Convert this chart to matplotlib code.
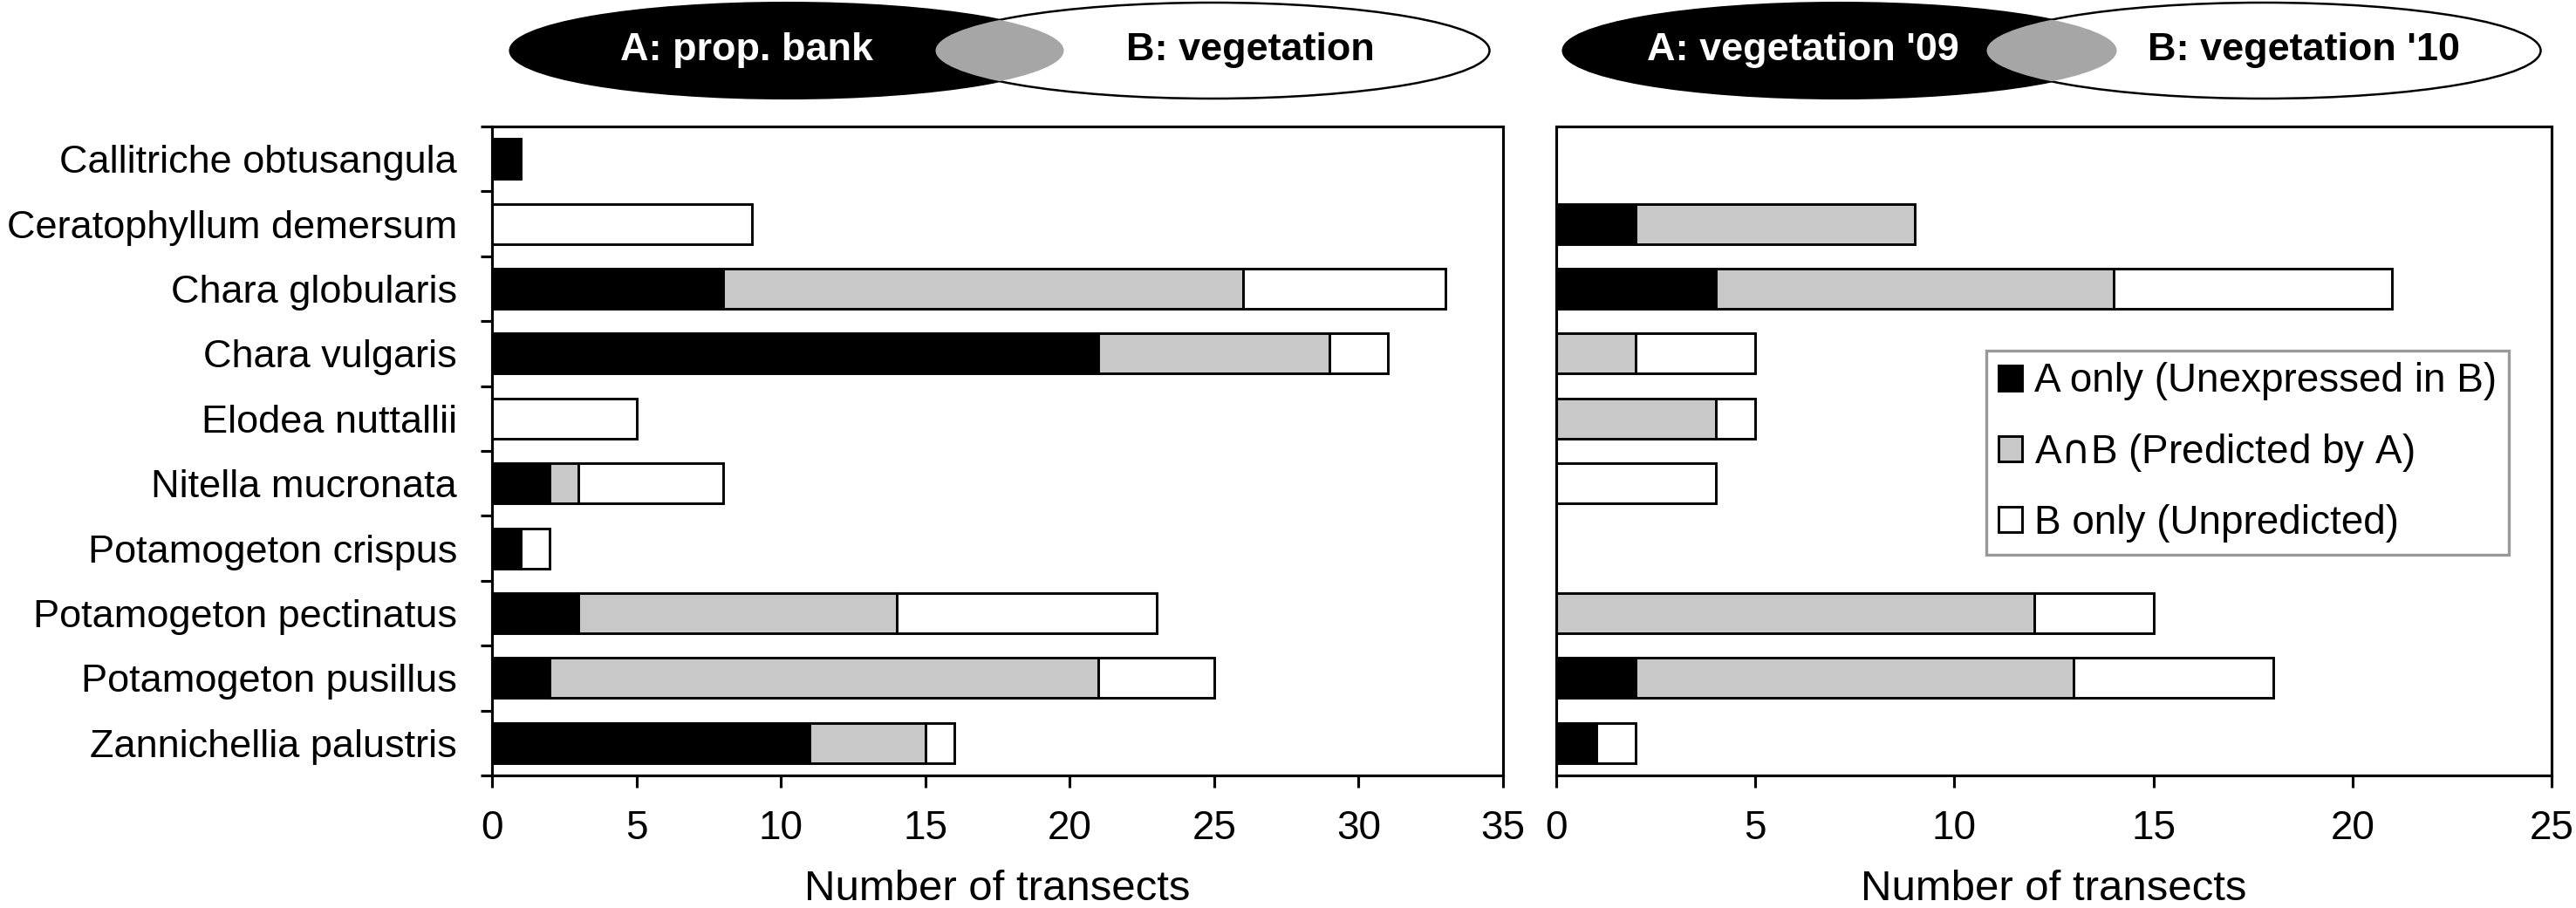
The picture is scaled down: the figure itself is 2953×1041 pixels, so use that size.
import numpy as np
import matplotlib
matplotlib.use('Agg')
import matplotlib.pyplot as plt
from matplotlib.patches import Ellipse

plt.rcParams['font.family'] = ['Liberation Sans', 'DejaVu Sans']
plt.rcParams['font.size'] = 11

species = ['Callitriche obtusangula', 'Ceratophyllum demersum', 'Chara globularis',
           'Chara vulgaris', 'Elodea nuttallii', 'Nitella mucronata',
           'Potamogeton crispus', 'Potamogeton pectinatus', 'Potamogeton pusillus',
           'Zannichellia palustris']

# left panel: A = propagule bank, B = vegetation
left_a_only = [1, 0, 8, 21, 0, 2, 1, 3, 2, 11]
left_both   = [0, 0, 18, 8, 0, 1, 0, 11, 19, 4]
left_b_only = [0, 9, 7, 2, 5, 5, 1, 9, 4, 1]

# right panel: A = vegetation '09, B = vegetation '10
right_a_only = [0, 2, 4, 0, 0, 0, 0, 0, 2, 1]
right_both   = [0, 7, 10, 2, 4, 0, 0, 12, 11, 0]
right_b_only = [0, 0, 7, 3, 1, 4, 0, 3, 5, 1]

series_names = ['A only (Unexpressed in B)', r'A$\cap$B (Predicted by A)', 'B only (Unpredicted)']
series_colors = ['#000000', '#c8c8c8', '#ffffff']

W, H, DPI = 2953, 1041, 300
fig = plt.figure(figsize=(W / DPI, H / DPI), dpi=DPI, facecolor='white')

ax_l = fig.add_axes([564 / W, 1 - 889 / H, (1723 - 564) / W, (889 - 145) / H])
ax_r = fig.add_axes([1784 / W, 1 - 889 / H, (2925 - 1784) / W, (889 - 145) / H])

y = np.arange(len(species))


def stacked(ax, cols):
    left = np.zeros(len(species))
    handles = []
    for vals, name, col in zip(cols, series_names, series_colors):
        vals = np.array(vals, dtype=float)
        keep = vals > 0
        h = ax.barh(y[keep], vals[keep], left=left[keep], height=0.62, color=col,
                    edgecolor='black', linewidth=0.7, label=name)
        handles.append(h)
        left += vals
    return handles


stacked(ax_l, [left_a_only, left_both, left_b_only])
hr = stacked(ax_r, [right_a_only, right_both, right_b_only])

for ax, xmax in [(ax_l, 35), (ax_r, 25)]:
    ax.set_xlim(0, xmax)
    ax.set_ylim(len(species) - 0.5, -0.5)
    ax.set_xticks(np.arange(0, xmax + 1, 5))
    ax.tick_params(axis='x', direction='out', length=3.4, width=0.75, pad=6, labelsize=11)
    ax.set_xlabel('Number of transects', fontsize=11.8, labelpad=6)
    for s in ax.spines.values():
        s.set_linewidth(0.75)

ax_l.set_yticks(y)
ax_l.set_yticklabels(species)
ax_l.tick_params(axis='y', which='major', length=0, pad=9.6, labelsize=10.85)
ax_l.set_yticks(np.arange(-0.5, len(species)), minor=True)
ax_l.tick_params(axis='y', which='minor', direction='out', length=3.2, width=0.75)
ax_r.set_yticks([])

leg = ax_r.legend(handles=hr, loc='upper left', bbox_to_anchor=(0.432, 0.655),
                  frameon=True, fancybox=False, edgecolor='#999999', framealpha=1,
                  handlelength=0.6, handleheight=0.6, handletextpad=0.3,
                  labelspacing=0.77, borderpad=0.3, fontsize=11, borderaxespad=0)
leg.get_frame().set_linewidth(0.8)

# venn-style ellipse headers, drawn in pixel coordinates
ov = fig.add_axes([0, 0, 1, 1])
ov.set_xlim(0, W)
ov.set_ylim(H, 0)
ov.axis('off')


def header(ax, ca, cb, ta, tb, label_a, label_b, w=635, h=110, cy=58):
    ea = Ellipse((ca, cy), w, h, facecolor='black', edgecolor='black', lw=0.5)
    eb = Ellipse((cb, cy), w, h, facecolor='white', edgecolor='black', lw=0.6)
    eg = Ellipse((ca, cy), w, h, facecolor='#a6a6a6', edgecolor='none')
    ax.add_patch(ea)
    ax.add_patch(eb)
    ax.add_patch(eg)
    eg.set_clip_path(eb)
    ax.text(ta, cy, label_a, color='white', fontweight='bold', fontsize=10.8,
            ha='center', va='center')
    ax.text(tb, cy, label_b, color='black', fontweight='bold', fontsize=10.8,
            ha='center', va='center')


header(ov, 902, 1390, 856, 1433, 'A: prop. bank', 'B: vegetation')
header(ov, 2109, 2595, 2067, 2641, "A: vegetation '09", "B: vegetation '10")

fig.savefig('out.png', dpi=DPI, facecolor='white')
